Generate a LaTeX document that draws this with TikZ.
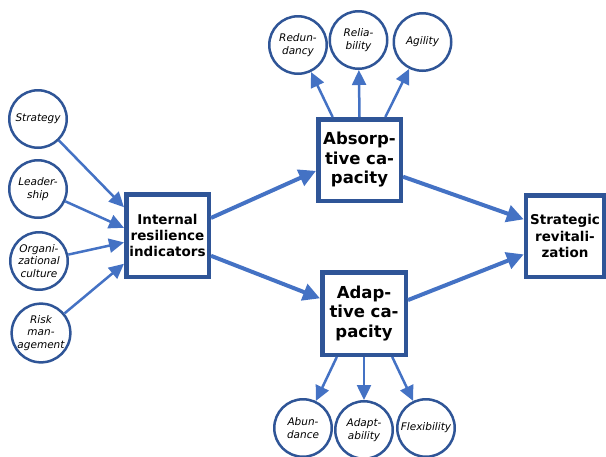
\documentclass[tikz,border=0pt]{standalone}
\usepackage{fontspec}
\setmainfont{DejaVu Sans}
\usetikzlibrary{arrows.meta}
\definecolor{boxblue}{HTML}{2F5597}
\definecolor{arrblue}{HTML}{4472C4}
\begin{document}
\begin{tikzpicture}[x=1pt,y=-1pt,
  bigbox/.style={draw=boxblue,line width=4.5pt,fill=white,align=center,inner sep=0pt,
    font=\fontsize{16.5}{19.5}\selectfont\bfseries,text=black},
  smallbox/.style={draw=boxblue,line width=4.5pt,fill=white,align=center,inner sep=0pt,
    font=\fontsize{13.5}{16.3}\selectfont\bfseries,text=black},
  circ/.style={circle,draw=boxblue,line width=2.5pt,fill=white,minimum size=57.5pt,inner sep=0pt,
    align=center,font=\fontsize{10.5}{12.5}\selectfont\itshape,text=black},
  thin/.style={draw=arrblue,line width=2.5pt,-{Triangle[length=15pt,width=14pt]}},
  thick/.style={draw=arrblue,line width=4pt,-{Triangle[length=17pt,width=17pt]}}]
\useasboundingbox (0,0) rectangle (606,456);
% boxes
\node[smallbox,minimum width=82.5pt,minimum height=82.5pt] (int) at (167.5,235.5) {Internal\\resilience\\indicators};
\node[bigbox,minimum width=82.5pt,minimum height=81.5pt] (abs) at (359.5,160) {Absorp-\\tive ca-\\pacity};
\node[bigbox,minimum width=83.5pt,minimum height=82.5pt] (ada) at (364,313.5) {Adap-\\tive ca-\\pacity};
\node[smallbox,minimum width=78pt,minimum height=81.5pt] (str) at (565,236) {Strategic\\revitali-\\zation};
% circles
\node[circ] (c1) at (38,119) {Strategy};
\node[circ] (c2) at (38,189) {Leader-\\ship};
\node[circ] (c3) at (39,261) {Organi-\\zational\\culture};
\node[circ] (c4) at (41,333) {Risk\\man-\\agement};
\node[circ] (r1) at (298,45) {Redun-\\dancy};
\node[circ] (r2) at (358.5,40) {Relia-\\bility};
\node[circ] (r3) at (422.5,42) {Agility};
\node[circ] (d1) at (303,428) {Abun-\\dance};
\node[circ] (d2) at (364,430) {Adapt-\\ability};
\node[circ] (d3) at (426,428) {Flexibility};
% arrows in
\draw[thin] (c1) -- (int.147);
\draw[thin] (c2) -- (int.170);
\draw[thin] (c3) -- (int.189);
\draw[thin] (c4) -- (int.213);
% main arrows
\draw[thick] (int.22) -- (abs.194);
\draw[thick] (int.335) -- (ada.161);
\draw[thick] (abs.339) -- (str.158);
\draw[thick] (ada.17) -- (str.204);
% outputs
\draw[thin] (abs.122) -- (r1);
\draw[thin] (abs.90) -- (r2);
\draw[thin] (abs.59) -- (r3);
\draw[thin] (ada.238) -- (d1);
\draw[thin] (ada.270) -- (d2);
\draw[thin] (ada.303) -- (d3);
\end{tikzpicture}
\end{document}
